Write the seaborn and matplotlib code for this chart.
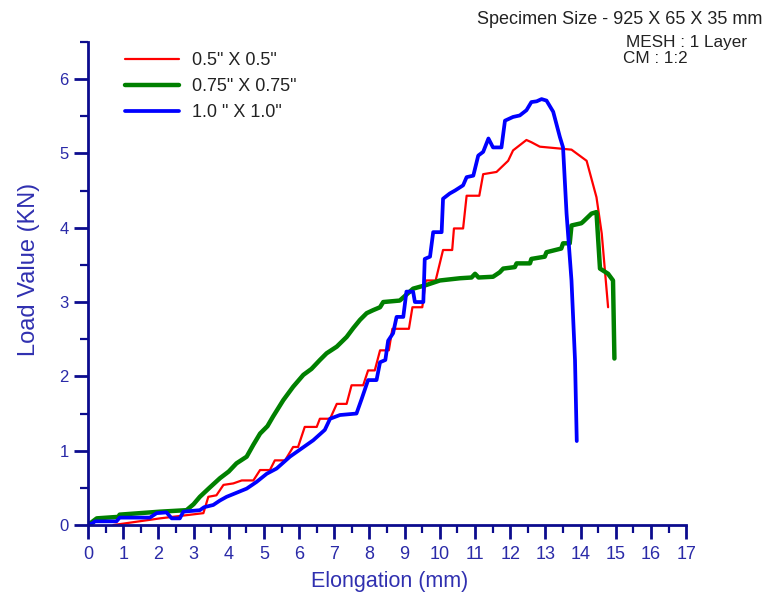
import matplotlib
matplotlib.use("Agg")
import matplotlib.pyplot as plt
from matplotlib.ticker import MultipleLocator
import seaborn as sns
import pandas as pd

sns.set_theme(style="white")
plt.rcParams['font.family'] = ['Liberation Sans', 'DejaVu Sans']

series_names = ['0.5" X 0.5"', '0.75" X 0.75"', '1.0 " X 1.0"']

red_x = [0.72, 2.05, 3.28, 3.42, 3.65, 3.85, 4.13, 4.37, 4.7, 4.89, 5.17, 5.31, 5.6, 5.83, 5.97,
         6.16, 6.5, 6.59, 6.88, 7.07, 7.35, 7.49, 7.82, 7.96, 8.15, 8.3, 8.55, 8.65, 9.12, 9.22,
         9.5, 9.6, 9.88, 10.09, 10.35, 10.4, 10.66, 10.76, 11.12, 11.23, 11.61, 11.94, 12.08,
         12.46, 12.6, 12.84, 13.74, 14.17, 14.45, 14.6, 14.78]
red_y = [0.0, 0.09, 0.16, 0.38, 0.4, 0.54, 0.56, 0.6, 0.6, 0.74, 0.74, 0.87, 0.87, 1.05, 1.05,
         1.32, 1.32, 1.43, 1.43, 1.63, 1.63, 1.88, 1.88, 2.08, 2.08, 2.35, 2.35, 2.64, 2.64, 2.93,
         2.93, 3.29, 3.29, 3.70, 3.70, 3.99, 3.99, 4.43, 4.43, 4.72, 4.75, 4.9, 5.04,
         5.18, 5.15, 5.09, 5.05, 4.9, 4.41, 3.92, 2.93]

green_x = [0.0, 0.25, 0.86, 0.9, 2.05, 2.8, 3.0, 3.18, 3.45, 3.75, 4.0, 4.22, 4.51, 4.7, 4.89,
           5.1, 5.26, 5.55, 5.83, 6.12, 6.35, 6.59, 6.78, 7.07, 7.35, 7.54, 7.73, 7.92, 8.1, 8.3,
           8.39, 8.86, 9.24, 9.62, 10.0, 10.57, 10.9, 11.0, 11.1, 11.51, 11.7, 11.8, 12.13, 12.18,
           12.56, 12.6, 12.98, 13.03, 13.45, 13.5, 13.69, 13.74, 14.02, 14.07, 14.31, 14.45,
           14.55, 14.78, 14.92, 14.96]
green_y = [0.0, 0.09, 0.11, 0.14, 0.18, 0.2, 0.28, 0.38, 0.5, 0.63, 0.72, 0.83, 0.92, 1.08, 1.23,
           1.33, 1.46, 1.68, 1.86, 2.02, 2.1, 2.22, 2.31, 2.4, 2.53, 2.65, 2.76, 2.85, 2.89, 2.93,
           3.0, 3.02, 3.18, 3.23, 3.29, 3.32, 3.33, 3.38, 3.33, 3.34, 3.4, 3.45, 3.47, 3.52,
           3.52, 3.58, 3.61, 3.67, 3.72, 3.79, 3.79, 4.03, 4.06, 4.08, 4.19, 4.21,
           3.45, 3.38, 3.29, 2.24]

blue_x = [0.0, 0.15, 0.2, 0.81, 0.9, 1.76, 1.95, 2.23, 2.38, 2.61, 2.71, 3.18, 3.3, 3.56, 3.75,
          3.94, 4.2, 4.51, 4.79, 5.08, 5.36, 5.74, 6.07, 6.4, 6.73, 6.88, 7.16, 7.63, 7.78, 7.96,
          8.2, 8.3, 8.45, 8.53, 8.67, 8.77, 8.96, 9.05, 9.24, 9.29, 9.53, 9.57, 9.72, 9.81, 10.05,
          10.09, 10.28, 10.43, 10.66, 10.76, 10.95, 11.09, 11.23, 11.38, 11.51, 11.75, 11.85,
          12.08, 12.27, 12.46, 12.6, 12.75, 12.89, 13.03, 13.22, 13.41, 13.5, 13.6, 13.74, 13.84,
          13.89]
blue_y = [0.0, 0.03, 0.05, 0.05, 0.1, 0.1, 0.16, 0.17, 0.09, 0.09, 0.18, 0.2, 0.24, 0.27, 0.33,
          0.38, 0.43, 0.49, 0.58, 0.69, 0.76, 0.92, 1.03, 1.14, 1.28, 1.43, 1.48, 1.5, 1.7, 1.95,
          1.95, 2.19, 2.22, 2.48, 2.58, 2.8, 2.8, 3.14, 3.14, 3.0, 3.0, 3.58, 3.61, 3.94, 3.94,
          4.39, 4.46, 4.5, 4.57, 4.68, 4.7, 4.97, 5.02, 5.2, 5.08, 5.08, 5.44,
          5.49, 5.51, 5.58, 5.69, 5.7, 5.73, 5.71, 5.56, 5.22, 5.08, 4.19, 3.29, 2.22,
          1.13]

x_ticks = list(range(0, 18))
y_ticks = list(range(0, 7))

colors = ['#ff0000', '#008000', '#0000ff']
widths = [1.6, 3.2, 2.7]

fig = plt.figure(figsize=(7.65, 5.98), dpi=100)
ax = fig.add_axes([0.115, 0.122, 0.782, 0.808])

for name, xs, ys, c, w in zip(series_names, [red_x, green_x, blue_x], [red_y, green_y, blue_y], colors, widths):
    df = pd.DataFrame({'x': xs, 'y': ys})
    sns.lineplot(data=df, x='x', y='y', sort=False, estimator=None, color=c, linewidth=w,
                 label=name, ax=ax)

axis_col = '#0c0c8e'
ax.set_xlim(0, 17)
ax.set_ylim(0, 6.5)
ax.set_xticks(x_ticks)
ax.set_yticks(y_ticks)
ax.xaxis.set_minor_locator(MultipleLocator(0.5))
ax.yaxis.set_minor_locator(MultipleLocator(0.5))
for s in ['top', 'right']:
    ax.spines[s].set_visible(False)
for s in ['left', 'bottom']:
    ax.spines[s].set_color(axis_col)
    ax.spines[s].set_linewidth(2)
ax.tick_params(which='major', direction='out', length=10, width=2, color=axis_col,
               labelcolor='#2a2aa8', bottom=True, left=True)
ax.tick_params(which='minor', direction='out', length=6, width=1.6, color=axis_col, bottom=True, left=True)
ax.tick_params(axis='x', labelsize=13, pad=5)
ax.tick_params(axis='y', labelsize=12, pad=4)
ax.set_xlabel('Elongation (mm)', fontsize=15.5, color='#3030b0')
ax.set_ylabel('Load Value (KN)', fontsize=17, color='#3030b0')
ax.xaxis.set_label_coords(0.505, -0.095)
ax.yaxis.set_label_coords(-0.081, 0.528)

leg = ax.legend(loc='upper left', bbox_to_anchor=(0.035, 1.013), frameon=False, fontsize=13,
                handlelength=3.0, handletextpad=0.7, labelspacing=0.5)
for t in leg.get_texts():
    t.set_color('#222222')

fig.text(0.996, 0.968, 'Specimen Size - 925 X 65 X 35 mm', ha='right', va='center', fontsize=13, color='#222222')
fig.text(0.977, 0.929, 'MESH : 1 Layer', ha='right', va='center', fontsize=12.3, color='#222222')
fig.text(0.814, 0.903, 'CM : 1:2', ha='left', va='center', fontsize=12.3, color='#222222')

fig.savefig('out.png', dpi=100)
